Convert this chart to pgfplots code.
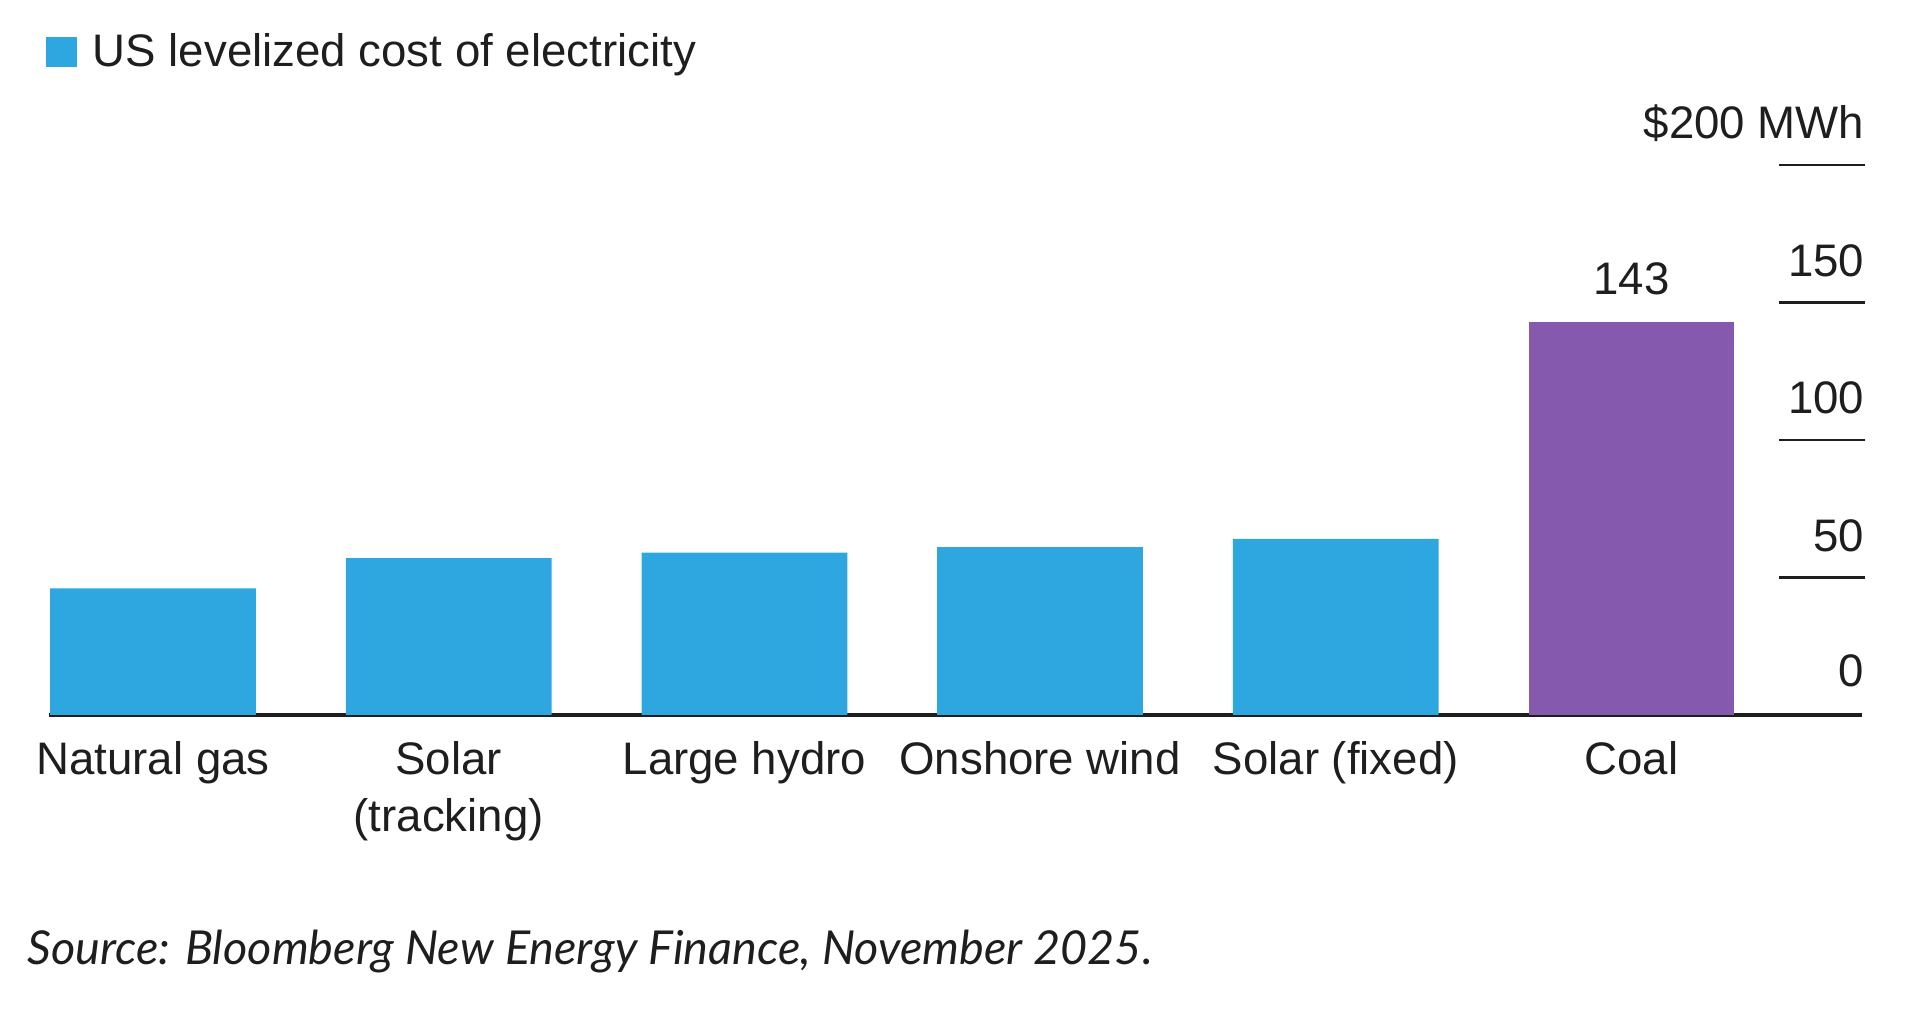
\documentclass[border=0pt]{standalone}
\usepackage{pgfplots}
\pgfplotsset{compat=1.18}
\usepackage{fontspec}
\setmainfont{Liberation Sans}
\newfontfamily\srcfont{Lato}
\definecolor{barblue}{HTML}{2EA6E0}
\definecolor{barpurple}{HTML}{8459AE}
\definecolor{txt}{HTML}{1E1E1E}
\begin{document}
\begin{tikzpicture}[font=\fontsize{11.4}{13.5}\selectfont, text=txt]
\useasboundingbox (0,0) rectangle (480pt,253.25pt);
\fill[barblue] (11.6pt,236.5pt) rectangle (19.25pt,244pt);
\node[anchor=base west, inner sep=0] at (23pt,236.5pt) {US levelized cost of electricity};
\node[anchor=base west, inner sep=0, font=\srcfont\itshape\fontsize{11.7}{13}\selectfont] at (6.75pt,12pt) {Source: Bloomberg New Energy Finance, November 2025.};
\begin{axis}[
  at={(12.25pt,74.5pt)}, anchor=south west,
  scale only axis, width=454pt, height=137.5pt,
  xmin=-0.352, xmax=5.79, ymin=0, ymax=200,
  clip=false,
  /pgf/number format/assume math mode=true,
  axis line style={draw=none}, tick style={draw=none},
  ytick=\empty,
  xtick={0,1,2,3,4,5},
  xticklabels={Natural gas,{\begin{tabular}[t]{@{}c@{}}Solar\\[0.6pt](tracking)\end{tabular}},Large hydro,Onshore wind,Solar (fixed),Coal},
  xticklabel style={anchor=base, yshift=-15pt, inner sep=0pt, text=txt, font=\fontsize{11.4}{13.5}\selectfont},
]
\draw[txt, line width=0.8pt] (axis cs:-0.352,0) -- (axis cs:5.78,0);
\addplot[ybar, bar shift=0pt, bar width=0.696, fill=barblue, draw=none] coordinates {(0,46) (1,57) (2,59) (3,61) (4,64)};
\addplot[ybar, bar shift=0pt, bar width=0.696, fill=barpurple, draw=none,
  nodes near coords, nodes near coords style={anchor=base, yshift=6.7pt, inner sep=0pt, text=txt, font=\fontsize{11.4}{13.5}\selectfont}] coordinates {(5,143)};
\draw[txt, line width=0.7pt] (axis cs:5.50,50) -- (axis cs:5.79,50);
\draw[txt, line width=0.7pt] (axis cs:5.50,100) -- (axis cs:5.79,100);
\draw[txt, line width=0.7pt] (axis cs:5.50,150) -- (axis cs:5.79,150);
\draw[txt, line width=0.7pt] (axis cs:5.50,200) -- (axis cs:5.79,200);
\node[anchor=base east, inner sep=0pt, yshift=7pt] at (axis cs:5.79,0) {0};
\node[anchor=base east, inner sep=0pt, yshift=6.5pt] at (axis cs:5.79,50) {50};
\node[anchor=base east, inner sep=0pt, yshift=6.5pt] at (axis cs:5.79,100) {100};
\node[anchor=base east, inner sep=0pt, yshift=6.5pt] at (axis cs:5.79,150) {150};
\node[anchor=base east, inner sep=0pt, yshift=6.5pt] at (axis cs:5.79,200) {\$200 MWh};
\end{axis}
\end{tikzpicture}
\end{document}
